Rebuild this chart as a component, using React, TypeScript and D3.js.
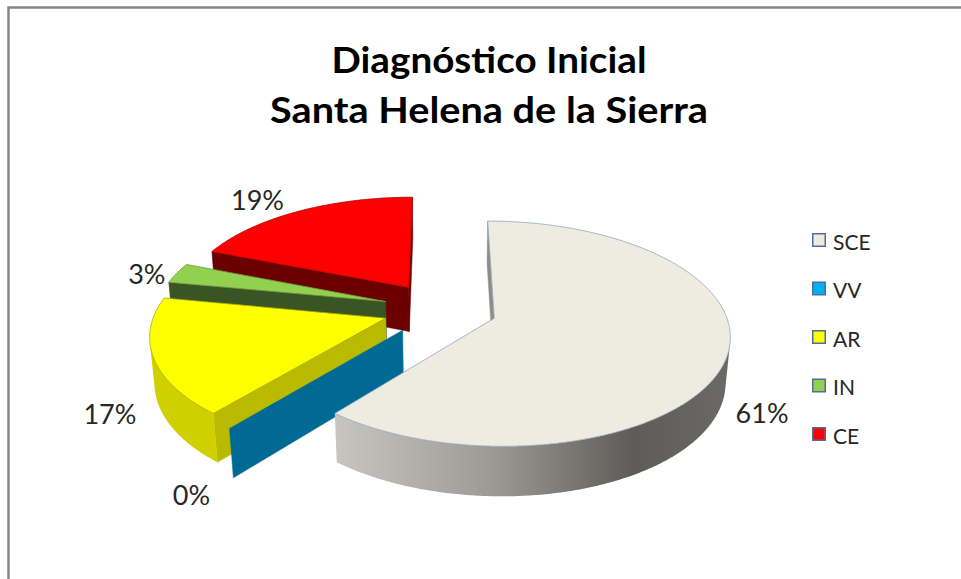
import React from 'react';
import * as d3 from 'd3';

// ---- data ----
const categories: string[] = ['SCE', 'VV', 'AR', 'IN', 'CE'];
const values: number[] = [61, 0, 17, 3, 19];
const titleLines: string[] = ['Diagnóstico Inicial', 'Santa Helena de la Sierra'];

// ---- styles ----
const topColors = ['#EEECE1', '#00B0F0', '#FFFF00', '#92D050', '#FF0000'];
const sideColors = ['url(#sceSide)', '#006A95', '#D0D000', '#3E5A28', '#700000'];
const wallColors = ['#8E8C86', '#006A95', '#BABA00', '#3A5424', '#6A0000'];
const topStroke = ['#8FA4C2', '#006A95', '#A8A800', '#6E9A3C', '#B00000'];
const legendStroke = '#4F6E99';
const titleWidths = [315, 438];
// pixel nudges for data labels (relative to the projected rim anchor)
const labelNudge: [number, number][] = [[38, 31], [-40, 41], [-46, 32], [-32, -22], [-42, -32]];

const W = 961, H = 579;
const CX = 440, CY = 309, K = 230;
const EXPLODE = 0.248;
const PHI = (28 * Math.PI) / 180;
const DIST = 6.49;
const DEPTH = 0.225;
const sinP = Math.sin(PHI), cosP = Math.cos(PHI);
const CAM = [0, DIST * sinP, DIST * cosP];

type V3 = [number, number, number];

function project(p: V3): [number, number] {
  const [X, Y, Z] = p;
  const depth = Z * cosP + Y * sinP;
  const s = DIST / (DIST - depth);
  return [CX + X * K * s, CY + (Z * sinP - Y * cosP) * K * s];
}
function camDist(p: V3) {
  return Math.hypot(p[0] - CAM[0], p[1] - CAM[1], p[2] - CAM[2]);
}
function facing(p: V3, n: V3) {
  return (CAM[0] - p[0]) * n[0] + (CAM[1] - p[1]) * n[1] + (CAM[2] - p[2]) * n[2] > 0;
}

interface Face { d: string; fill: string; stroke: string; dist: number; }

function polyPath(pts: V3[]) {
  const path = d3.path();
  pts.forEach((p, i) => {
    const [x, y] = project(p);
    if (i === 0) path.moveTo(x, y); else path.lineTo(x, y);
  });
  path.closePath();
  return path.toString();
}

export default function App() {
  const arcs = d3.pie<number>().sort(null).startAngle(0).endAngle(2 * Math.PI)(values);

  const sides: Face[] = [];
  const tops: Face[] = [];
  const labelPos: [number, number][] = [];

  arcs.forEach((a, i) => {
    const mid = (a.startAngle + a.endAngle) / 2;
    const O: V3 = [EXPLODE * Math.sin(mid), 0, -EXPLODE * Math.cos(mid)];
    const rim = (t: number, y: number): V3 => [O[0] + Math.sin(t), y, O[2] - Math.cos(t)];
    const apex = (y: number): V3 => [O[0], y, O[2]];
    const span = a.endAngle - a.startAngle;
    const n = Math.max(2, Math.ceil(span / 0.01));
    const ts = d3.range(n + 1).map((k) => a.startAngle + (span * k) / n);

    // top face
    if (span > 0) {
      const pts: V3[] = [apex(0), ...ts.map((t) => rim(t, 0))];
      tops.push({ d: polyPath(pts), fill: topColors[i], stroke: topStroke[i], dist: 0 });
    }

    // radial walls
    const walls: [number, number][] = [[a.startAngle, -1], [a.endAngle, 1]];
    walls.forEach(([t, sgn]) => {
      const nrm: V3 = [sgn * Math.cos(t), 0, sgn * Math.sin(t)];
      const c: V3 = [O[0] + 0.5 * Math.sin(t), -DEPTH / 2, O[2] - 0.5 * Math.cos(t)];
      if (!facing(c, nrm)) return;
      const pts: V3[] = [apex(0), rim(t, 0), rim(t, -DEPTH), apex(-DEPTH)];
      sides.push({ d: polyPath(pts), fill: wallColors[i], stroke: wallColors[i], dist: camDist(c) });
    });

    // outer curved side (front-facing portions)
    if (span > 0) {
      let seg: number[] = [];
      const flush = () => {
        if (seg.length > 1) {
          const pts: V3[] = [...seg.map((t) => rim(t, 0)), ...seg.slice().reverse().map((t) => rim(t, -DEPTH))];
          const tm = seg[Math.floor(seg.length / 2)];
          sides.push({ d: polyPath(pts), fill: sideColors[i], stroke: 'none', dist: camDist(rim(tm, -DEPTH / 2)) });
        }
        seg = [];
      };
      ts.forEach((t) => {
        const p = rim(t, 0);
        const nrm: V3 = [Math.sin(t), 0, -Math.cos(t)];
        if (facing(p, nrm)) seg.push(t); else flush();
      });
      flush();
    }

    // label anchor: rim at mid angle, mid height
    const anc = project([O[0] + Math.sin(mid), -DEPTH / 2, O[2] - Math.cos(mid)]);
    labelPos.push([anc[0] + labelNudge[i][0], anc[1] + labelNudge[i][1]]);
  });

  sides.sort((p, q) => q.dist - p.dist);

  const legendY = d3.scalePoint<string>().domain(categories).range([240, 434]);

  return (
    <svg width={W} height={H} style={{ position: 'absolute', left: 0, top: 0, background: '#fff' }}
      fontFamily="Lato, 'Open Sans', sans-serif">
      <defs>
        <linearGradient id="sceSide" gradientUnits="userSpaceOnUse" x1={330} y1={0} x2={735} y2={0}>
          <stop offset="0" stopColor="#C9C7C1" />
          <stop offset="0.4" stopColor="#9C9A94" />
          <stop offset="0.75" stopColor="#5E5C58" />
          <stop offset="1" stopColor="#6C6A66" />
        </linearGradient>
      </defs>
      <rect x={0} y={0} width={W} height={H} fill="#fff" />
      <rect x={8.5} y={7.5} width={W + 20} height={H + 20} fill="none" stroke="#868686" strokeWidth={2.5} />

      {titleLines.map((t, i) => (
        <text key={t} x={489} y={73 + i * 50} textAnchor="middle" fontWeight="bold" fontSize={37} fill="#000"
          textLength={titleWidths[i]} lengthAdjust="spacingAndGlyphs">
          {t}
        </text>
      ))}

      {sides.map((f, i) => (
        <path key={'s' + i} d={f.d} fill={f.fill} stroke={f.stroke} strokeWidth={0.5} strokeLinejoin="round" />
      ))}
      {tops.map((f, i) => (
        <path key={'t' + i} d={f.d} fill={f.fill} stroke={f.stroke} strokeWidth={0.8} strokeLinejoin="round" />
      ))}

      {labelPos.map(([x, y], i) => (
        <text key={'l' + i} x={x} y={y} textAnchor="middle" dominantBaseline="central" fontSize={27} fill="#262626">
          {values[i]}%
        </text>
      ))}

      {categories.map((c, i) => (
        <g key={c} transform={`translate(812,${legendY(c)})`}>
          <rect x={0.75} y={-6.25} width={12.5} height={12.5} fill={topColors[i]} stroke={legendStroke} strokeWidth={1.5} />
          <text x={21} y={1} dominantBaseline="central" fontSize={21} fill="#262626">{c}</text>
        </g>
      ))}
    </svg>
  );
}
